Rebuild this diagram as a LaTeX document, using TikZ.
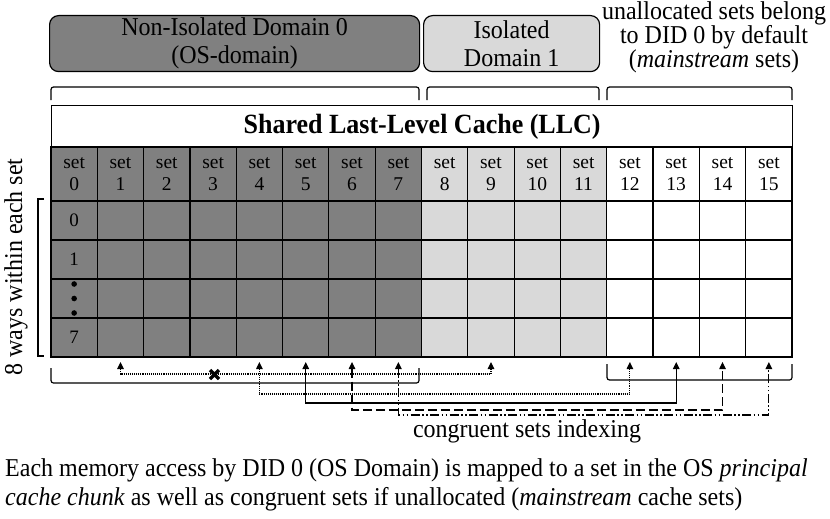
\documentclass[tikz,border=0pt]{standalone}
\usepackage{fontspec}
\setmainfont{Liberation Serif}
\usetikzlibrary{arrows.meta,calc}
\definecolor{darkg}{HTML}{808080}
\definecolor{lightg}{HTML}{D9D9D9}
\newcommand\vst[1]{\scalebox{1}[1.07]{#1}}
\begin{document}
\begin{tikzpicture}[x=1pt,y=-1pt,
  every node/.style={font=\fontsize{24}{28}\selectfont},
  cell/.style={draw=black, line width=1.2pt, minimum width=46.3125pt, minimum height=39pt, inner sep=0pt, outer sep=0pt, anchor=north west},
  hcell/.style={cell, minimum height=54pt, align=center, font=\fontsize{19.5}{22}\selectfont},
  waylab/.style={font=\fontsize{19}{21}\selectfont, inner sep=0pt},
  dom/.style={draw=black, rounded corners=9pt, line width=1.2pt, anchor=north west, minimum height=56pt, inner sep=0pt, align=center},
  brk/.style={line width=1.2pt, rounded corners=2.5pt},
  link/.style={line width=1.1pt, {Triangle[width=6.5pt,length=7pt]}-{Triangle[width=6.5pt,length=7pt]}},
  dashdotdot/.style={dash pattern=on 9pt off 2.5pt on 1.5pt off 2.5pt on 1.5pt off 2.5pt}
]
\useasboundingbox (0,0) rectangle (830,519);
\fill[white] (0,0) rectangle (830,519);

% domain boxes
\node[dom, fill=darkg, minimum width=370pt] (d0) at (49,15) {\vst{Non-Isolated Domain 0}\\\vst{(OS-domain)}};
\node[dom, fill=lightg, minimum width=176pt] (d1) at (423,15) {\vst{Isolated}\\\vst{Domain 1}};
\node[anchor=base, inner sep=0pt] (u1) at (714,19.5) {\vst{unallocated sets belong}};
\node[anchor=base, inner sep=0pt] (u2) at (714,44) {\vst{to DID 0 by default}};
\node[anchor=base, inner sep=0pt] (u3) at (714,68) {\vst{(\textit{mainstream} sets)}};

% top braces
\draw[brk] (51,100) -- (51,87) -- (419,87) -- (419,100);
\draw[brk] (427,100) -- (427,87) -- (599,87) -- (599,100);
\draw[brk] (607,100) -- (607,87) -- (792,87) -- (792,100);

% LLC title
\node[draw=black, line width=1.2pt, minimum width=741pt, minimum height=42pt, anchor=north west, inner sep=0pt,
  font=\bfseries\fontsize{26}{30}\selectfont] (llc) at (51,105) {\vst{Shared Last-Level Cache (LLC)}};

% grid
\foreach \i in {0,...,15}{
  \ifnum\i<8 \def\cc{darkg}\else\ifnum\i<12 \def\cc{lightg}\else\def\cc{white}\fi\fi
  \node[hcell, fill=\cc] (h\i) at ({51+\i*46.3125},147) {set\\\i};
  \foreach \r in {0,...,3}{
    \node[cell, fill=\cc] (w\i-\r) at ({51+\i*46.3125},{201+\r*39}) {};
  }
  \coordinate (b\i) at ($(w\i-3.south)+(0,5)$);
}

% way labels
\node[waylab] (l0) at (w0-0) {0};
\node[waylab] (l1) at (w0-1) {1};
\node[waylab] (l7) at (w0-3) {7};
\fill ($(w0-2.center)+(0,-14.5)$) circle (2.8pt);
\fill (w0-2.center) circle (2.8pt);
\fill ($(w0-2.center)+(0,14.5)$) circle (2.8pt);

% left bracket and label
\draw[line width=1.2pt] (44,199) -- (38,199) -- (38,356) -- (44,356);
\node[rotate=90, anchor=base, inner sep=0pt] (ways) at (22,267) {\vst{8 ways within each set}};

% bottom braces
\draw[brk] (51,368) -- (51,383) -- (419,383) -- (419,368);
\draw[brk] (607,364) -- (607,380) -- (792,380) -- (792,364);

% connectors
\draw[link, densely dotted] (b1) -- ++(0,12) -| (b9);
\draw[line width=3.5pt] (210,370) -- (219,379) (210,379) -- (219,370);
\draw[link, densely dotted] (b4) -- ++(0,32) -| (b12);
\draw[link] (b5) -- ++(0,41) -| (b13);
\draw[link, dash pattern=on 9pt off 4pt] (b6) -- ++(0,48) -| (b14);
\draw[link, dashdotdot] (b7) -- ++(0,53) -| (b15);

% texts
\node[anchor=base, inner sep=0pt] (cong) at (527,437) {\vst{congruent sets indexing}};
\node[anchor=base west, inner sep=0pt] (cap1) at (5,476) {\vst{Each memory access by DID 0 (OS Domain) is mapped to a set in the OS \textit{principal}}};
\node[anchor=base west, inner sep=0pt] (cap2) at (5,505) {\vst{\textit{cache chunk} as well as congruent sets if unallocated (\textit{mainstream} cache sets)}};
\end{tikzpicture}
\end{document}
